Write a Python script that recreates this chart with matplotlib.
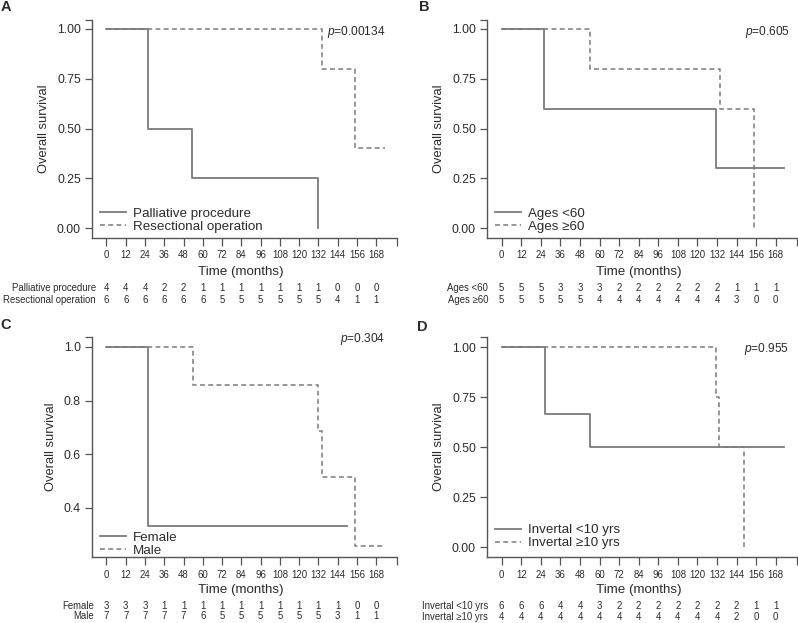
import matplotlib
matplotlib.use("Agg")
import matplotlib.pyplot as plt
from matplotlib.transforms import blended_transform_factory

plt.rcParams['font.family'] = ['Liberation Sans', 'DejaVu Sans']
plt.rcParams['mathtext.fontset'] = 'custom'
plt.rcParams['mathtext.it'] = 'Liberation Sans:italic'
plt.rcParams['mathtext.rm'] = 'Liberation Sans'

# ---------------- data ----------------
risk_times = [0, 12, 24, 36, 48, 60, 72, 84, 96, 108, 120, 132, 144, 156, 168]

# Panel A
a_names = ["Palliative procedure", "Resectional operation"]
a_s1_t = [0, 25.6, 53.4, 132.0, 132.0]
a_s1_s = [1.0, 0.5, 0.25, 0.0, 0.0]
a_s2_t = [0, 134.0, 154.9, 173.6]
a_s2_s = [1.0, 0.8, 0.4, 0.4]
a_risk1 = [4, 4, 4, 2, 2, 1, 1, 1, 1, 1, 1, 1, 0, 0, 0]
a_risk2 = [6, 6, 6, 6, 6, 6, 5, 5, 5, 5, 5, 5, 4, 1, 1]
a_p = "0.00134"
a_yticks = [0.0, 0.25, 0.5, 0.75, 1.0]
a_yticklabels = ["0.00", "0.25", "0.50", "0.75", "1.00"]

# Panel B
b_names = ["Ages <60", "Ages \u226560"]
b_s1_t = [0, 25.9, 131.6, 173.0]
b_s1_s = [1.0, 0.6, 0.3, 0.3]
b_s2_t = [0, 54.1, 133.7, 154.7, 154.7]
b_s2_s = [1.0, 0.8, 0.6, 0.0, 0.0]
b_risk1 = [5, 5, 5, 3, 3, 3, 2, 2, 2, 2, 2, 2, 1, 1, 1]
b_risk2 = [5, 5, 5, 5, 5, 4, 4, 4, 4, 4, 4, 4, 3, 0, 0]
b_p = "0.605"
b_yticks = [0.0, 0.25, 0.5, 0.75, 1.0]
b_yticklabels = ["0.00", "0.25", "0.50", "0.75", "1.00"]

# Panel C
c_names = ["Female", "Male"]
c_s1_t = [0, 26.0, 149.7]
c_s1_s = [1.0, 0.333, 0.333]
c_s2_t = [0, 54.0, 131.6, 134.0, 154.9, 173.6]
c_s2_s = [1.0, 0.857, 0.686, 0.514, 0.257, 0.257]
c_risk1 = [3, 3, 3, 1, 1, 1, 1, 1, 1, 1, 1, 1, 1, 0, 0]
c_risk2 = [7, 7, 7, 7, 7, 6, 5, 5, 5, 5, 5, 5, 3, 1, 1]
c_p = "0.304"
c_yticks = [0.4, 0.6, 0.8, 1.0]
c_yticklabels = ["0.4", "0.6", "0.8", "1.0"]

# Panel D
d_names = ["Invertal <10 yrs", "Invertal \u226510 yrs"]
d_s1_t = [0, 26.4, 54.1, 173.0]
d_s1_s = [1.0, 0.667, 0.5, 0.5]
d_s2_t = [0, 131.2, 133.3, 148.6, 148.6]
d_s2_s = [1.0, 0.75, 0.5, 0.0, 0.0]
d_risk1 = [6, 6, 6, 4, 4, 3, 2, 2, 2, 2, 2, 2, 2, 1, 1]
d_risk2 = [4, 4, 4, 4, 4, 4, 4, 4, 4, 4, 4, 4, 2, 0, 0]
d_p = "0.955"
d_yticks = [0.0, 0.25, 0.5, 0.75, 1.0]
d_yticklabels = ["0.00", "0.25", "0.50", "0.75", "1.00"]

# ---------------- figure ----------------
W, H = 798, 623
fig = plt.figure(figsize=(W / 100, H / 100), dpi=100)

LINE = "#7b7b7b"
TEXT = "#2a2a2a"
SPINE = "#555555"


def px_axes(left, top, right, bottom):
    return fig.add_axes([left / W, 1 - bottom / H, (right - left) / W, (bottom - top) / H])


def panel(box, letter, letter_xy, names, s1t, s1s, s2t, s2s, r1, r2, p, pxy,
          yticks, yticklabels, ylim, leg_y, lab_x, rows_y, xlabel_y):
    ax = px_axes(*box)
    ax.step(s1t, s1s, where="post", color=LINE, lw=1.3, label=names[0])
    ax.step(s2t, s2s, where="post", color=LINE, lw=1.1, ls=(0, (3.2, 2.2)), label=names[1])
    ax.set_xlim(-9, 181)
    ax.set_ylim(*ylim)
    ax.set_xticks(risk_times + [181])
    ax.set_xticklabels([str(t) for t in risk_times] + [""])
    ax.set_yticks(yticks + [ylim[1]])
    ax.set_yticklabels(yticklabels + [""])
    for s in ("top", "right"):
        ax.spines[s].set_visible(False)
    for s in ("left", "bottom"):
        ax.spines[s].set_color(SPINE)
        ax.spines[s].set_linewidth(1.0)
    ax.tick_params(axis="x", labelsize=6.9, colors=SPINE, labelcolor=TEXT, length=6, width=0.9, pad=3)
    ax.tick_params(axis="y", labelsize=8.8, colors=SPINE, labelcolor=TEXT, length=5, width=0.9, pad=3)
    ax.set_ylabel("Overall survival", fontsize=9.3, color=TEXT, labelpad=5)
    # legend
    leg = ax.legend(loc="lower left", bbox_to_anchor=(0.025, leg_y), frameon=False,
                    fontsize=9.6, handlelength=2.0, handletextpad=0.5,
                    labelspacing=0.05, borderaxespad=0, borderpad=0)
    for t in leg.get_texts():
        t.set_color(TEXT)
    # p value
    fig.text(pxy[0] / W, 1 - pxy[1] / H, r"$\it{p}$=" + p, ha="right", va="center",
             fontsize=8.6, color=TEXT)
    # panel letter
    fig.text(letter_xy[0] / W, 1 - letter_xy[1] / H, letter, ha="left", va="center",
             fontsize=10.5, fontweight="bold", color=TEXT)
    # x label
    tr = blended_transform_factory(ax.transData, fig.transFigure)
    ax.text(84, 1 - xlabel_y / H, "Time (months)", transform=tr, ha="center", va="center",
            fontsize=9.6, color=TEXT)
    # risk table
    for row, label, ypx in ((r1, names[0], rows_y[0]), (r2, names[1], rows_y[1])):
        fig.text(lab_x / W, 1 - ypx / H, label, ha="right", va="center", fontsize=6.9, color=TEXT)
        for t, n in zip(risk_times, row):
            ax.text(t, 1 - ypx / H, str(n), transform=tr, ha="center", va="center",
                    fontsize=6.9, color=TEXT)
    return ax


panel((92, 20, 397, 238), "A", (1, 7), a_names, a_s1_t, a_s1_s, a_s2_t, a_s2_s,
      a_risk1, a_risk2, a_p, (385, 32), a_yticks, a_yticklabels, (-0.05, 1.045),
      0.025, 96, (288, 300), 272)
panel((487, 20, 797, 238), "B", (419, 7), b_names, b_s1_t, b_s1_s, b_s2_t, b_s2_s,
      b_risk1, b_risk2, b_p, (790, 32), b_yticks, b_yticklabels, (-0.05, 1.045),
      0.025, 488, (288, 300), 272)
panel((92, 337, 397, 557), "C", (0, 325), c_names, c_s1_t, c_s1_s, c_s2_t, c_s2_s,
      c_risk1, c_risk2, c_p, (385, 339), c_yticks, c_yticklabels, (0.217, 1.037),
      0.0, 94, (606, 616), 590)
panel((487, 337, 797, 557), "D", (417, 327), d_names, d_s1_t, d_s1_s, d_s2_t, d_s2_s,
      d_risk1, d_risk2, d_p, (789, 349), d_yticks, d_yticklabels, (-0.05, 1.05),
      0.035, 488, (606, 617), 590)

fig.savefig("out.png", dpi=100, facecolor="white")
